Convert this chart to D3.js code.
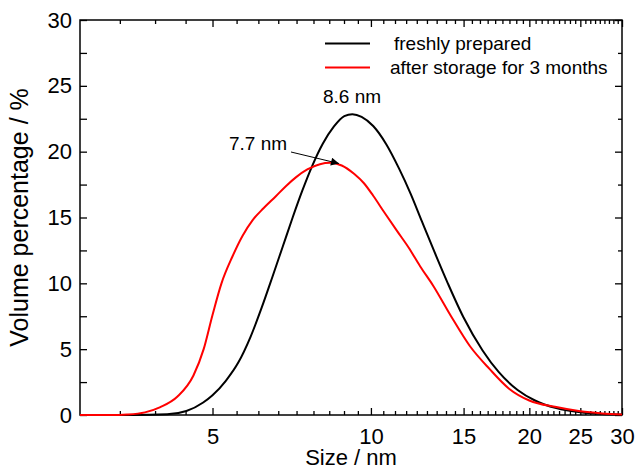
<!DOCTYPE html>
<html>
<head>
<meta charset="utf-8">
<script src="https://cdn.jsdelivr.net/npm/d3@7"></script>
<style>
  body { margin: 0; background: #fff; }
  text { font-family: "Liberation Sans", Arial, Helvetica, sans-serif; fill: #000; }
</style>
</head>
<body>
<div id="chart"></div>
<script>
// size (nm) and volume percentage
const freshSize = [2.8, 3.5, 4.1, 4.46, 4.8, 5.0, 5.3, 5.6, 5.9, 6.2, 6.5, 6.8, 7.1, 7.4, 7.75, 8.1, 8.5, 8.9, 9.22, 9.6, 10.1, 10.7, 11.3, 11.9, 12.5, 13.2, 14.0, 15.0, 16.3, 17.5, 19.0, 20.5, 22.5, 25, 27.5, 30];
const freshVol = [0, 0, 0.05, 0.3, 0.95, 1.5, 2.6, 4.0, 5.9, 8.15, 10.5, 12.8, 15.0, 17.0, 19.0, 20.6, 21.9, 22.7, 22.85, 22.65, 21.95, 20.55, 18.75, 16.8, 14.7, 12.4, 10.0, 7.4, 4.9, 3.25, 1.9, 1.1, 0.52, 0.2, 0.08, 0.03];

const storedSize = [2.8, 3.2, 3.44, 3.72, 3.98, 4.29, 4.6, 4.81, 5.0, 5.2, 5.45, 5.7, 5.96, 6.25, 6.59, 6.9, 7.2, 7.57, 8.0, 8.37, 8.8, 9.3, 9.7, 10.1, 10.6, 11.2, 11.8, 12.4, 13.14, 14.2, 15.44, 16.8, 18.3, 20.0, 22.5, 25, 27.5, 30];
const storedVol = [0, 0, 0.04, 0.2, 0.6, 1.4, 3.0, 5.0, 7.6, 10.0, 12.0, 13.6, 14.8, 15.7, 16.6, 17.4, 18.05, 18.65, 19.05, 19.15, 18.95, 18.3, 17.6, 16.65, 15.4, 14.0, 12.7, 11.3, 9.8, 7.5, 5.2, 3.5, 2.0, 1.1, 0.6, 0.28, 0.12, 0.04];

const seriesNames = ["freshly prepared", "after storage for 3 months"];
const seriesColors = ["#000000", "#ff0000"];
const xTicks = [5, 10, 15, 20, 25, 30];
const yTicks = [0, 5, 10, 15, 20, 25, 30];
const peakLabels = ["8.6 nm", "7.7 nm"];

const W = 635, H = 467;
const margin = {left: 80, right: 622, top: 20, bottom: 415};

const x = d3.scaleLog().domain([2.8, 30]).range([margin.left, margin.right]);
const y = d3.scaleLinear().domain([0, 30]).range([margin.bottom, margin.top]);

// minor ticks: 8 per 5 nm step, linear in value
let xMinor = [];
for (let k = 0; k < 6; k++) {
  for (let j = 1; j <= 8; j++) {
    let v = 5 * k + j * 5 / 9;
    if (v > 2.8 && v < 30) xMinor.push(v);
  }
}
const yMinor = d3.range(2.5, 30, 5);

const svg = d3.select("#chart").append("svg")
  .attr("width", W).attr("height", H);

const line = d3.line()
  .x(d => x(d[0])).y(d => y(d[1]))
  .curve(d3.curveMonotoneX);

const series = [d3.zip(freshSize, freshVol), d3.zip(storedSize, storedVol)];

// axes, ticks inward
function styleAxis(g) {
  g.select(".domain").remove();
  g.selectAll("line").attr("stroke", "#000").attr("stroke-width", 1.3);
}
const fmt = d3.format("d");

svg.append("g").attr("transform", `translate(0,${margin.bottom})`)
  .call(d3.axisBottom(x).tickValues(xTicks).tickFormat(fmt).tickSizeInner(-7).tickSizeOuter(0))
  .call(styleAxis)
  .selectAll("text").attr("font-size", 22).attr("dy", 0).attr("y", 29);
svg.append("g").attr("transform", `translate(0,${margin.bottom})`)
  .call(d3.axisBottom(x).tickValues(xMinor).tickFormat("").tickSizeInner(-4).tickSizeOuter(0))
  .call(styleAxis);
svg.append("g").attr("transform", `translate(0,${margin.top})`)
  .call(d3.axisTop(x).tickValues(xTicks).tickFormat("").tickSizeInner(-7).tickSizeOuter(0))
  .call(styleAxis);
svg.append("g").attr("transform", `translate(0,${margin.top})`)
  .call(d3.axisTop(x).tickValues(xMinor).tickFormat("").tickSizeInner(-4).tickSizeOuter(0))
  .call(styleAxis);

svg.append("g").attr("transform", `translate(${margin.left},0)`)
  .call(d3.axisLeft(y).tickValues(yTicks).tickFormat(fmt).tickSizeInner(-7).tickSizeOuter(0))
  .call(styleAxis)
  .selectAll("text").attr("font-size", 22).attr("x", -8);
svg.append("g").attr("transform", `translate(${margin.left},0)`)
  .call(d3.axisLeft(y).tickValues(yMinor).tickFormat("").tickSizeInner(-7).tickSizeOuter(0))
  .call(styleAxis);
svg.append("g").attr("transform", `translate(${margin.right},0)`)
  .call(d3.axisRight(y).tickValues(yTicks).tickFormat("").tickSizeInner(-7).tickSizeOuter(0))
  .call(styleAxis);
svg.append("g").attr("transform", `translate(${margin.right},0)`)
  .call(d3.axisRight(y).tickValues(yMinor).tickFormat("").tickSizeInner(-4).tickSizeOuter(0))
  .call(styleAxis);

// frame
svg.append("rect")
  .attr("x", margin.left).attr("y", margin.top)
  .attr("width", margin.right - margin.left).attr("height", margin.bottom - margin.top)
  .attr("fill", "none").attr("stroke", "#000").attr("stroke-width", 1.5);

// curves drawn over the frame, red last
svg.append("g").selectAll("path").data(series).enter().append("path")
  .attr("d", line)
  .attr("fill", "none")
  .attr("stroke", (d, i) => seriesColors[i])
  .attr("stroke-width", 2);

// axis titles
svg.append("text")
  .attr("x", (margin.left + margin.right) / 2).attr("y", 465)
  .attr("text-anchor", "middle").attr("font-size", 22)
  .text("Size / nm");
svg.append("text")
  .attr("transform", `translate(28,${(margin.top + margin.bottom) / 2}) rotate(-90)`)
  .attr("text-anchor", "middle").attr("font-size", 25)
  .text("Volume percentage / %");

// legend
const legend = svg.append("g");
seriesNames.forEach((name, i) => {
  const ly = 43.5 + i * 24;
  legend.append("line")
    .attr("x1", 325).attr("x2", 370).attr("y1", ly).attr("y2", ly)
    .attr("stroke", seriesColors[i]).attr("stroke-width", 2);
  legend.append("text")
    .attr("x", i === 0 ? 394 : 390).attr("y", ly + 6.5)
    .attr("font-size", 19)
    .text(name);
});

// peak annotations
svg.append("text")
  .attr("x", 352).attr("y", 103)
  .attr("text-anchor", "middle").attr("font-size", 19)
  .text(peakLabels[0]);
svg.append("text")
  .attr("x", 258).attr("y", 150)
  .attr("text-anchor", "middle").attr("font-size", 19)
  .text(peakLabels[1]);

svg.append("defs").append("marker")
  .attr("id", "arrow").attr("viewBox", "0 0 10 10")
  .attr("refX", 10).attr("refY", 5)
  .attr("markerWidth", 10).attr("markerHeight", 8)
  .attr("markerUnits", "userSpaceOnUse")
  .attr("orient", "auto")
  .append("path").attr("d", "M0,0 L10,5 L0,10 Z").attr("fill", "#000");

svg.append("line")
  .attr("x1", 291).attr("y1", 152)
  .attr("x2", 339).attr("y2", 163.5)
  .attr("stroke", "#000").attr("stroke-width", 1)
  .attr("marker-end", "url(#arrow)");
</script>
</body>
</html>
